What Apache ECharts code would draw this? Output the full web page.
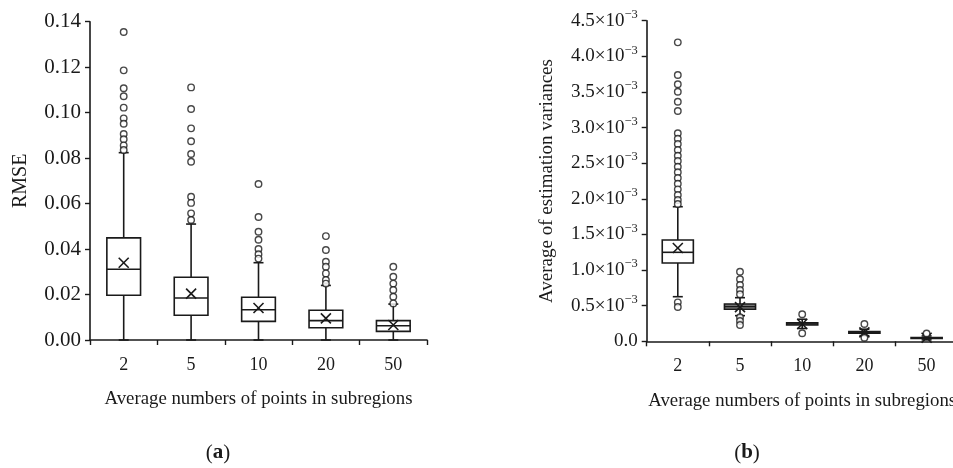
<!DOCTYPE html>
<html>
<head>
<meta charset="utf-8">
<script src="https://cdn.jsdelivr.net/npm/echarts@6/dist/echarts.min.js"></script>
<style>html,body{margin:0;padding:0;background:#fff}#c{width:953px;height:468px}</style>
</head>
<body>
<div id="c"></div>
<script>
const categories = ['2', '5', '10', '20', '50'];

// Panel (a): RMSE
const rmseWhiskerLow  = [0, 0, 0, 0, 0];
const rmseQ1          = [0.0197, 0.0109, 0.0082, 0.0054, 0.0038];
const rmseMedian      = [0.0311, 0.0185, 0.0133, 0.0085, 0.0063];
const rmseQ3          = [0.0449, 0.0276, 0.0188, 0.0131, 0.0085];
const rmseWhiskerHigh = [0.0824, 0.0510, 0.0340, 0.0240, 0.0158];
const rmseMean        = [0.0340, 0.0204, 0.0141, 0.0095, 0.0066];
const rmseOutliers = [
  [0.1355, 0.1186, 0.1107, 0.1072, 0.1022, 0.0975, 0.0951, 0.0906, 0.0883, 0.0856, 0.0836],
  [0.1111, 0.1016, 0.0931, 0.0874, 0.0818, 0.0784, 0.0630, 0.0603, 0.0557, 0.0528],
  [0.0686, 0.0541, 0.0476, 0.0441, 0.0400, 0.0377, 0.0358],
  [0.0457, 0.0396, 0.0344, 0.0322, 0.0293, 0.0264, 0.0248],
  [0.0322, 0.0278, 0.0248, 0.0220, 0.0190, 0.0161]
];

// Panel (b): average of estimation variances
const varWhiskerLow  = [0.626e-3, 0.360e-3, 0.180e-3, 0.080e-3, 0.020e-3];
const varQ1          = [1.099e-3, 0.449e-3, 0.228e-3, 0.115e-3, 0.040e-3];
const varMedian      = [1.249e-3, 0.487e-3, 0.243e-3, 0.126e-3, 0.047e-3];
const varQ3          = [1.422e-3, 0.524e-3, 0.258e-3, 0.137e-3, 0.054e-3];
const varWhiskerHigh = [1.889e-3, 0.612e-3, 0.310e-3, 0.170e-3, 0.075e-3];
const varMean        = [1.310e-3, 0.480e-3, 0.243e-3, 0.126e-3, 0.050e-3];
const varBoxFill     = ['#ffffff', '#8a8a8a', '#ffffff', '#ffffff', '#ffffff'];
const varOutliers = [
  [4.196e-3, 3.737e-3, 3.607e-3, 3.503e-3, 3.363e-3, 3.232e-3, 2.920e-3, 2.843e-3, 2.769e-3, 2.685e-3,
   2.605e-3, 2.531e-3, 2.451e-3, 2.372e-3, 2.292e-3, 2.212e-3, 2.133e-3, 2.053e-3, 1.983e-3, 1.927e-3,
   0.547e-3, 0.481e-3],
  [0.977e-3, 0.870e-3, 0.790e-3, 0.720e-3, 0.660e-3, 0.337e-3, 0.285e-3, 0.229e-3],
  [0.379e-3, 0.112e-3],
  [0.243e-3, 0.050e-3],
  [0.110e-3]
];

const rmseTicks = { min: 0, max: 0.14, interval: 0.02 };
const varTicks = { min: 0, max: 0.0045, interval: 0.0005 };

const FONT = '"Liberation Serif", "Times New Roman", serif';
const INK = '#1a1a1a';

function boxData(lo, q1, med, q3, hi, mean) {
  return categories.map((c, i) => [i, lo[i], q1[i], med[i], q3[i], hi[i], mean[i]]);
}
function outlierData(arr) {
  const out = [];
  arr.forEach((vals, i) => vals.forEach(v => out.push([i, v])));
  return out;
}

function makeRender(fills) {
  return function (params, api) {
    const i = api.value(0);
    const pLo = api.coord([i, api.value(1)]);
    const pQ1 = api.coord([i, api.value(2)]);
    const pMed = api.coord([i, api.value(3)]);
    const pQ3 = api.coord([i, api.value(4)]);
    const pHi = api.coord([i, api.value(5)]);
    const pMean = api.coord([i, api.value(6)]);
    const bw = api.size([1, 0])[0] * 0.5;
    const cx = pMed[0];
    const cap = 5;
    const xs = 5;
    const ls = { stroke: INK, lineWidth: 1.6, fill: null };
    const fill = fills ? fills[params.dataIndex] : '#fff';
    return {
      type: 'group',
      children: [
        { type: 'line', shape: { x1: cx, y1: pQ3[1], x2: cx, y2: pHi[1] }, style: ls },
        { type: 'line', shape: { x1: cx, y1: pQ1[1], x2: cx, y2: pLo[1] }, style: ls },
        { type: 'line', shape: { x1: cx - cap, y1: pHi[1], x2: cx + cap, y2: pHi[1] }, style: ls },
        { type: 'line', shape: { x1: cx - cap, y1: pLo[1], x2: cx + cap, y2: pLo[1] }, style: ls },
        { type: 'rect', shape: { x: cx - bw / 2, y: pQ3[1], width: bw, height: pQ1[1] - pQ3[1] },
          style: { stroke: INK, lineWidth: 1.6, fill: fill } },
        { type: 'line', shape: { x1: cx - bw / 2, y1: pMed[1], x2: cx + bw / 2, y2: pMed[1] }, style: ls },
        { type: 'line', shape: { x1: pMean[0] - xs, y1: pMean[1] - xs, x2: pMean[0] + xs, y2: pMean[1] + xs }, style: ls },
        { type: 'line', shape: { x1: pMean[0] - xs, y1: pMean[1] + xs, x2: pMean[0] + xs, y2: pMean[1] - xs }, style: ls }
      ]
    };
  };
}

function xAxisCfg(gridIndex) {
  return {
    type: 'category', gridIndex: gridIndex, data: categories, boundaryGap: true,
    name: 'Average numbers of points in subregions', nameLocation: 'middle', nameGap: 50,
    nameTextStyle: { fontFamily: FONT, fontSize: 18.8, color: INK },
    axisLine: { lineStyle: { color: INK, width: 1.6 } },
    axisTick: { show: true, length: 5, alignWithLabel: false, lineStyle: { color: INK, width: 1.4 } },
    axisLabel: { fontFamily: FONT, fontSize: 18, color: INK, margin: 16 },
    splitLine: { show: false }
  };
}

const chart = echarts.init(document.getElementById('c'), null, { renderer: 'canvas' });
chart.setOption({
  animation: false,
  backgroundColor: '#fff',
  grid: [
    { left: 90, top: 21.7, width: 337, height: 318.3, containLabel: false, outerBoundsMode: 'none' },
    { left: 646.7, top: 20.7, width: 311, height: 320.6, containLabel: false, outerBoundsMode: 'none' }
  ],
  xAxis: [xAxisCfg(0), xAxisCfg(1)],
  yAxis: [
    {
      type: 'value', gridIndex: 0, min: rmseTicks.min, max: rmseTicks.max, interval: rmseTicks.interval,
      name: 'RMSE', nameLocation: 'middle', nameGap: 59, nameRotate: 90,
      nameTextStyle: { fontFamily: FONT, fontSize: 20, color: INK },
      axisLine: { show: true, lineStyle: { color: INK, width: 1.6 } },
      axisTick: { show: true, length: 5, lineStyle: { color: INK, width: 1.4 } },
      axisLabel: { fontFamily: FONT, fontSize: 21, color: INK, margin: 9, formatter: v => v.toFixed(2) },
      splitLine: { show: false }
    },
    {
      type: 'value', gridIndex: 1, min: varTicks.min, max: varTicks.max, interval: varTicks.interval,
      name: 'Average of estimation variances', nameLocation: 'middle', nameGap: 90, nameRotate: 90,
      nameTextStyle: { fontFamily: FONT, fontSize: 19, color: INK },
      axisLine: { show: true, lineStyle: { color: INK, width: 1.6 } },
      axisTick: { show: true, length: 5, lineStyle: { color: INK, width: 1.4 } },
      axisLabel: {
        fontFamily: FONT, fontSize: 19, color: INK, margin: 9,
        formatter: v => (Math.abs(v) < 1e-12 ? '{n|0.0}' : '{n|' + (v * 1000).toFixed(1) + '×10}{s|−3}'),
        rich: {
          n: { fontFamily: FONT, fontSize: 19, color: INK },
          s: { fontFamily: FONT, fontSize: 12.5, color: INK, padding: [0, 0, 12, 0] }
        }
      },
      splitLine: { show: false }
    }
  ],
  graphic: [
    { type: 'text', x: 218, y: 453, style: { text: '({b|a})', font: '21px ' + FONT, fill: INK, align: 'center', verticalAlign: 'middle',
        rich: { b: { fontFamily: FONT, fontSize: 21, fontWeight: 'bold', fill: INK } } } },
    { type: 'text', x: 747, y: 453, style: { text: '({b|b})', font: '21px ' + FONT, fill: INK, align: 'center', verticalAlign: 'middle',
        rich: { b: { fontFamily: FONT, fontSize: 21, fontWeight: 'bold', fill: INK } } } }
  ],
  series: [
    {
      type: 'custom', xAxisIndex: 0, yAxisIndex: 0, z: 2,
      renderItem: makeRender(null),
      encode: { x: 0, y: [1, 2, 3, 4, 5, 6] },
      data: boxData(rmseWhiskerLow, rmseQ1, rmseMedian, rmseQ3, rmseWhiskerHigh, rmseMean)
    },
    {
      type: 'scatter', xAxisIndex: 0, yAxisIndex: 0, z: 3,
      symbol: 'circle', symbolSize: 6.5,
      itemStyle: { color: '#fff', borderColor: INK, borderWidth: 1.4 },
      data: outlierData(rmseOutliers)
    },
    {
      type: 'custom', xAxisIndex: 1, yAxisIndex: 1, z: 2,
      renderItem: makeRender(varBoxFill),
      encode: { x: 0, y: [1, 2, 3, 4, 5, 6] },
      data: boxData(varWhiskerLow, varQ1, varMedian, varQ3, varWhiskerHigh, varMean)
    },
    {
      type: 'scatter', xAxisIndex: 1, yAxisIndex: 1, z: 3,
      symbol: 'circle', symbolSize: 6.5,
      itemStyle: { color: '#fff', borderColor: INK, borderWidth: 1.4 },
      data: outlierData(varOutliers)
    }
  ]
});
</script>
</body>
</html>
